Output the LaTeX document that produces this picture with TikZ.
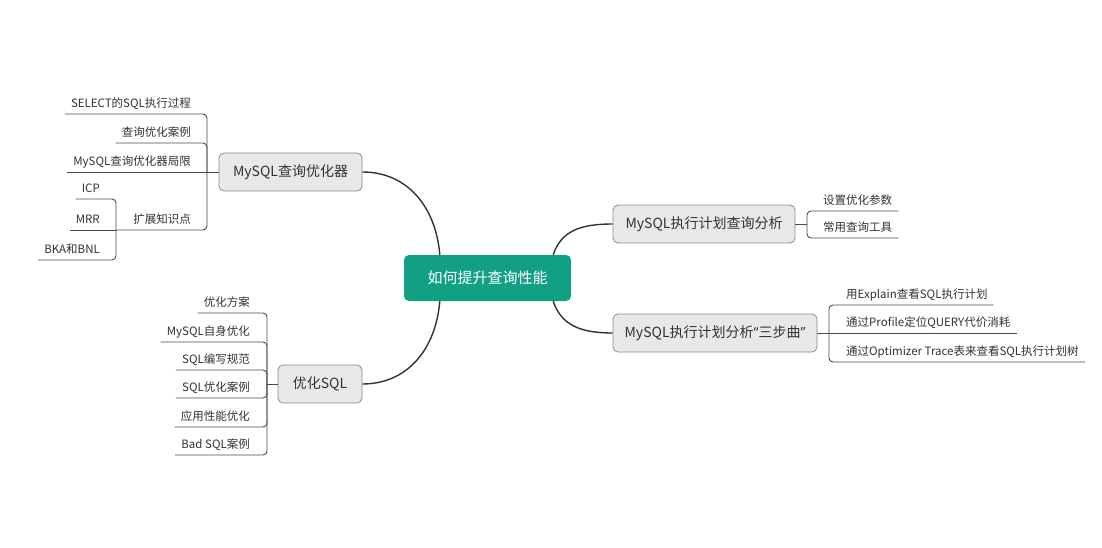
\documentclass[tikz,border=0pt]{standalone}
\usepackage{fontspec}
\setmainfont{Noto Sans CJK SC}
\newfontfamily\latq{Open Sans}
\usetikzlibrary{calc}
\definecolor{rootfill}{HTML}{12A085}
\definecolor{boxfill}{HTML}{E8E8E8}
\definecolor{boxline}{HTML}{8C8C8C}
\definecolor{txt}{HTML}{333333}
\definecolor{lineC}{HTML}{4A4A4A}
\definecolor{curveC}{HTML}{333333}
\begin{document}
\begin{tikzpicture}[x=1pt,y=-1pt,
  leaf/.style={font=\fontsize{11.5}{13}\selectfont, text=txt, inner xsep=6pt, inner ysep=4.5pt, text height=10pt, text depth=2pt},
  leafL/.style={leaf, anchor=south east},
  leafR/.style={leaf, anchor=south west},
  topic/.style={draw=boxline, fill=boxfill, rounded corners=5pt, minimum height=38pt, inner sep=0pt, font=\fontsize{14}{16}\selectfont, text=txt, line width=0.8pt},
  rootbox/.style={fill=rootfill, rounded corners=5pt, minimum width=167pt, minimum height=46pt, inner sep=0pt, font=\fontsize{15}{17}\selectfont, text=white},
  branch/.style={draw=lineC, line width=0.9pt, rounded corners=4pt},
  mainline/.style={draw=curveC, line width=1.4pt}]
\useasboundingbox[fill=white] (0,0) rectangle (1102,548);

% root
\node[rootbox] (root) at (487.5,278) {如何提升查询性能};

% topics
\node[topic, minimum width=143pt] (optA) at (290.5,172) {MySQL查询优化器};
\node[topic, minimum width=84pt] (optC) at (320,384) {优化SQL};
\node[topic, minimum width=182pt] (optD) at (704,224) {MySQL执行计划查询分析};
\node[topic, minimum width=204pt] (optE) at (715,333) {MySQL执行计划分析{\latq “}三步曲{\latq ”}};

% hubs
\coordinate (hubA) at (207,172);
\coordinate (hubB) at (116,230);
\coordinate (hubC) at (267,384);
\coordinate (hubD) at (807,224);
\coordinate (hubE) at (829,333);

% group A
\node[leafL] (a1) at (197,114) {SELECT的SQL执行过程};
\node[leafL] (a2) at (197,143) {查询优化案例};
\node[leafL] (a3) at (197,172) {MySQL查询优化器局限};
\node[leafL] (a4) at (197,230) {扩展知识点};
\node[leafL] (b1) at (106,199) {ICP};
\node[leafL] (b2) at (106,230) {MRR};
\node[leafL] (b3) at (106,260) {BKA和BNL};

\draw[branch] (optA.west) -- (hubA);
\draw[branch] (a1.south west) -| (hubA);
\draw[branch] (a2.south west) -| (hubA);
\draw[branch] (a3.south west) -- (hubA);
\draw[branch] (hubB) -- (a4.south west) -| (hubA);
\draw[branch] (b1.south west) -| (hubB);
\draw[branch] (b2.south west) -- (hubB);
\draw[branch] (b3.south west) -| (hubB);

% group C
\node[leafL] (c1) at (256,313) {优化方案};
\node[leafL] (c2) at (256,342) {MySQL自身优化};
\node[leafL] (c3) at (256,370) {SQL编写规范};
\node[leafL] (c4) at (256,398) {SQL优化案例};
\node[leafL] (c5) at (256,427) {应用性能优化};
\node[leafL] (c6) at (256,455) {Bad SQL案例};
\draw[branch] (optC.west) -- (hubC);
\foreach \n in {c1,c2,c3,c4,c5,c6} \draw[branch] (\n.south west) -| (hubC);

% group D
\node[leafR] (d1) at (817,211) {设置优化参数};
\node[leafR] (d2) at (817,238) {常用查询工具};
\draw[branch] (optD.east) -- (hubD);
\foreach \n in {d1,d2} \draw[branch] (\n.south east) -| (hubD);

% group E
\node[leafR] (e1) at (840,305) {用Explain查看SQL执行计划};
\node[leafR] (e2) at (840,333) {通过Profile定位QUERY代价消耗};
\node[leafR] (e3) at (840,362) {通过Optimizer Trace表来查看SQL执行计划树};
\draw[branch] (optE.east) -- (hubE);
\draw[branch] (e1.south east) -| (hubE);
\draw[branch] (e2.south east) -- (hubE);
\draw[branch] (e3.south east) -| (hubE);

% main curves
\draw[mainline] (optA.east) .. controls +(45,0) and +(-4,-48) .. ($(root.north west)+(36,0)$);
\draw[mainline] (optC.east) .. controls +(45,0) and +(-4,48) .. ($(root.south west)+(36,0)$);
\draw[mainline] ($(root.north east)+(-18,0)$) .. controls +(8,-24) and +(-32,0) .. (optD.west);
\draw[mainline] ($(root.south east)+(-18,0)$) .. controls +(8,24) and +(-32,0) .. (optE.west);
\end{tikzpicture}
\end{document}
